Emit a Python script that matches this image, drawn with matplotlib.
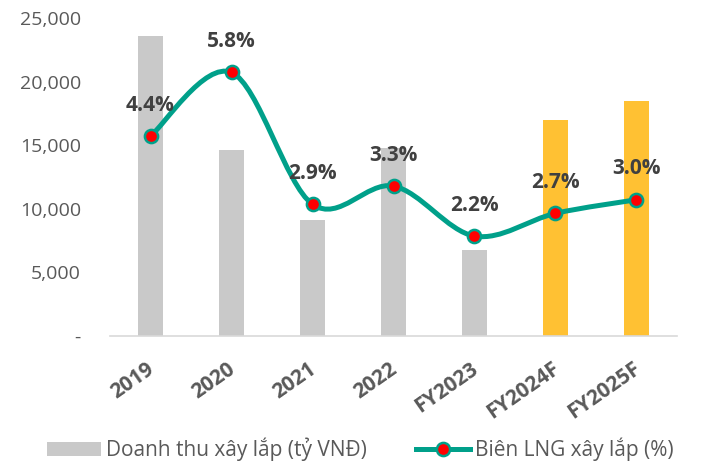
import matplotlib
matplotlib.use("Agg")
import matplotlib.pyplot as plt
from matplotlib.path import Path
from matplotlib.patches import PathPatch
from matplotlib.lines import Line2D
from matplotlib.patches import Patch
import matplotlib.ticker as mticker
import matplotlib.transforms as mtransforms

categories = ["2019", "2020", "2021", "2022", "FY2023", "FY2024F", "FY2025F"]
revenue = [23600, 14600, 9100, 14800, 6800, 17000, 18500]
margin = [4.4, 5.8, 2.9, 3.3, 2.2, 2.7, 3.0]
bar_colors = ["#C9C9C9"] * 5 + ["#FFC133"] * 2
y_ticks = [0, 5000, 10000, 15000, 20000, 25000]

plt.rcParams['font.family'] = ['Open Sans', 'DejaVu Sans']
TXT = "#595959"
TEAL = "#00A08A"

fig = plt.figure(figsize=(7.03, 4.73), dpi=100)
ax = fig.add_axes([0.1565, 0.2896, 0.963 - 0.1565, 0.962 - 0.2896])
x = list(range(len(categories)))
ax.bar(x, revenue, width=0.32, color=bar_colors, zorder=2)
ax.set_xlim(-0.5, len(categories) - 0.5)
ax.set_ylim(0, 25000)
ax.set_yticks(y_ticks)
ax.yaxis.set_major_formatter(mticker.FuncFormatter(lambda v, p: "-" if v == 0 else f"{int(v):,}"))
ax.tick_params(axis='y', length=0, labelsize=14, labelcolor=TXT, pad=21)
ax.set_xticks(x)
ax.set_xticklabels(categories, rotation=35, ha='right', va='top', rotation_mode='anchor',
                   fontweight='bold', fontsize=15, color=TXT)
ax.tick_params(axis='x', length=0, pad=16)
offset = mtransforms.ScaledTranslation(-3 / 72, 0, fig.dpi_scale_trans)
for lbl in ax.get_xticklabels():
    lbl.set_transform(lbl.get_transform() + offset)
for s in ['top', 'right', 'left']:
    ax.spines[s].set_visible(False)
ax.spines['bottom'].set_color('#D9D9D9')
ax.spines['bottom'].set_linewidth(1.2)

ax2 = ax.twinx()
ax2.set_ylim(0, 7)
ax2.set_yticks([])
for s in ax2.spines.values():
    s.set_visible(False)

# smoothed line (Catmull-Rom as cubic Bezier)
pts = list(zip(x, margin))
verts = [pts[0]]
codes = [Path.MOVETO]
n = len(pts)
t = 1.0 / 6.0
for i in range(n - 1):
    p0 = pts[i - 1] if i > 0 else pts[i]
    p1 = pts[i]
    p2 = pts[i + 1]
    p3 = pts[i + 2] if i + 2 < n else pts[i + 1]
    c1 = (p1[0] + (p2[0] - p0[0]) * t, p1[1] + (p2[1] - p0[1]) * t)
    c2 = (p2[0] - (p3[0] - p1[0]) * t, p2[1] - (p3[1] - p1[1]) * t)
    verts += [c1, c2, p2]
    codes += [Path.CURVE4] * 3
ax2.add_patch(PathPatch(Path(verts, codes), facecolor='none', edgecolor=TEAL,
                        linewidth=3.6, zorder=3, capstyle='round'))
ax2.plot(x, margin, linestyle='none', marker='o', markersize=9.5, markerfacecolor='#FF0000',
         markeredgecolor=TEAL, markeredgewidth=1.8, zorder=4)

for i, (xi, m) in enumerate(zip(x, margin)):
    ax2.annotate(f"{m:.1f}%", (xi, m), xytext=(0, 31), textcoords='offset pixels',
                 ha='center', va='center', fontsize=15, fontweight='bold', color='#404040', zorder=5)

handles = [Patch(facecolor='#C9C9C9', edgecolor='none'),
           Line2D([0], [0], color=TEAL, linewidth=3.6, marker='o', markersize=9.5,
                  markerfacecolor='#FF0000', markeredgecolor=TEAL, markeredgewidth=1.8)]
fig.legend(handles, ["Doanh thu xây lắp (tỷ VNĐ)", "Biên LNG xây lắp (%)"],
           loc='lower center', bbox_to_anchor=(0.512, -0.015), ncol=2, frameon=False,
           fontsize=15, labelcolor=TXT, handlelength=2.6, handleheight=0.67,
           columnspacing=2.35, handletextpad=0.24)

fig.savefig("out.png", dpi=100)
